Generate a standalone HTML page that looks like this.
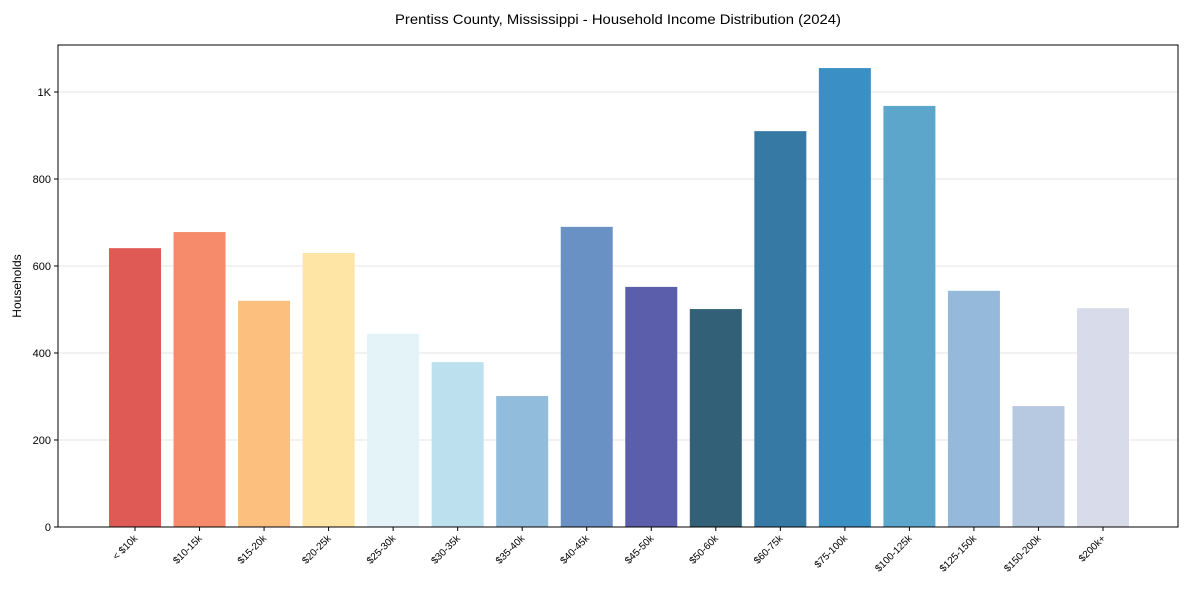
<!DOCTYPE html>
<html><head><meta charset="utf-8"><style>
body{margin:0;background:#fff;font-family:"Liberation Sans",sans-serif;}
svg text{font-family:"Liberation Sans",sans-serif;fill:#000;}
</style></head><body>
<svg id="chart" width="1189" height="590">
<text x="618" y="24" font-size="14" text-anchor="middle" textLength="446" lengthAdjust="spacingAndGlyphs">Prentiss County, Mississippi - Household Income Distribution (2024)</text>
<g id="grid"></g><g id="bars"></g><g id="axes"></g>
<text transform="translate(21,286) rotate(-90)" font-size="12" text-anchor="middle">Households</text>
</svg>
<script>
const categories=["< $10k","$10-15k","$15-20k","$20-25k","$25-30k","$30-35k","$35-40k","$40-45k","$45-50k","$50-60k","$60-75k","$75-100k","$100-125k","$125-150k","$150-200k","$200k+"];
const values=[641,678,520,630,444,379,301,690,552,501,910,1055,968,543,278,503];
const colors=["#e05a55","#f58b6a","#fdbf7e","#fee5a5","#e3f3f8","#bde0ee","#91bcdb","#6a91c4","#5b5eaa","#326077","#3679a4","#3a8fc4","#5ca6cb","#94b9da","#b7c9e1","#d8dcea"];
const yTicks=[0,200,400,600,800,1000];
const yTickLabels=["0","200","400","600","800","1K"];
const L=58,R=1178,T=45,B=527;
const y=v=>B-v*0.435;
const step=(1103-135)/15;
const x=i=>135+i*step;
const ns="http://www.w3.org/2000/svg";
function mk(tag,attrs,parent){const e=document.createElementNS(ns,tag);for(const k in attrs)e.setAttribute(k,attrs[k]);document.getElementById(parent).appendChild(e);return e;}
yTicks.forEach((t,i)=>{
 const g=mk("line",{x1:L,x2:R,y1:y(t),y2:y(t),stroke:"#e6e6e6","stroke-width":1},"grid");
 
 
 const tk=mk("line",{x1:L-4,x2:L,y1:y(t),y2:y(t),stroke:"#000"},"axes");
 
 
 const tx=mk("text",{x:L-7,y:y(t)+4,"font-size":11,"text-anchor":"end"},"axes");
 tx.textContent=yTickLabels[i];
 
 
});
values.forEach((v,i)=>{
 const r=mk("rect",{x:x(i)-26,y:y(v),width:52,height:B-y(v),fill:colors[i]},"bars");
 
 
 const tk=mk("line",{x1:x(i),x2:x(i),y1:B,y2:B+4,stroke:"#000"},"axes");
 
 
 const tx=mk("text",{transform:`translate(${x(i)+3},${B+12}) rotate(-45)`,"font-size":10,"text-anchor":"end"},"axes");
 tx.textContent=categories[i];
 
 
});
const f=mk("rect",{x:L,y:T,width:R-L,height:B-T,fill:"none",stroke:"#000","stroke-width":1},"axes");


</script>
</body></html>
